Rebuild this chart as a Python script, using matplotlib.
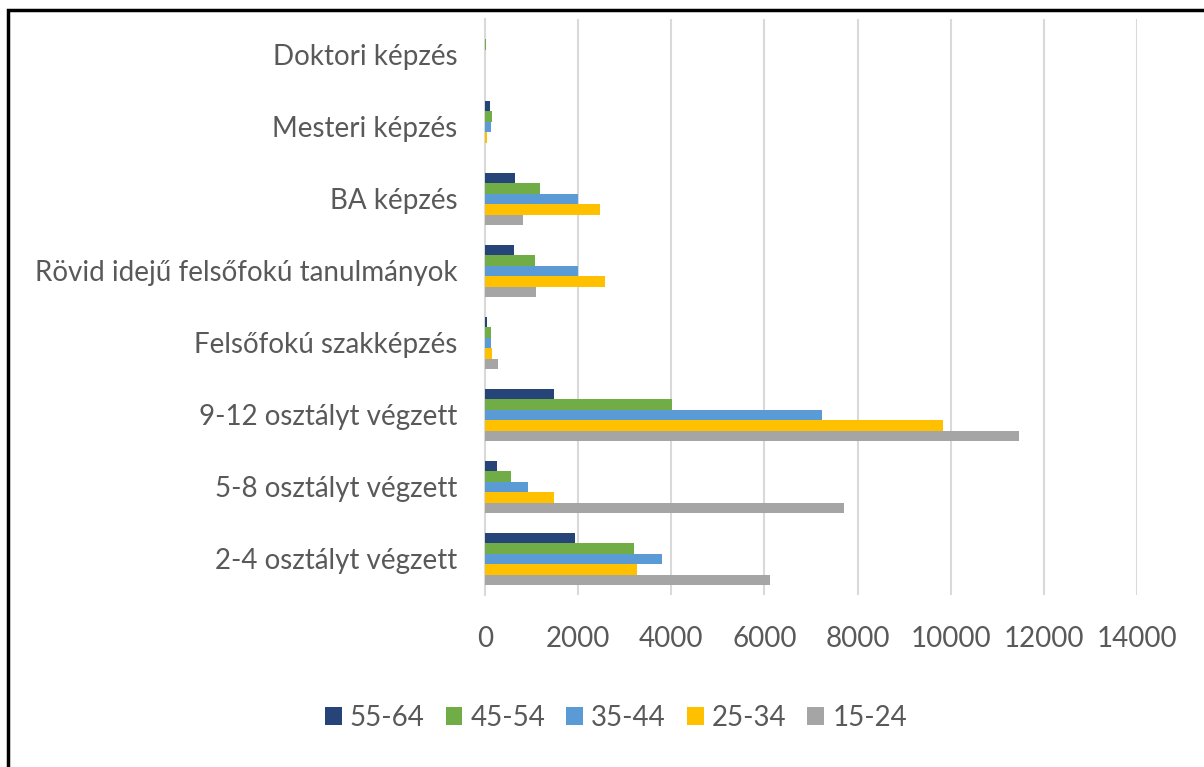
import matplotlib
matplotlib.use("Agg")
import matplotlib.pyplot as plt
from matplotlib.patches import Rectangle
import numpy as np

categories = ["2-4 osztályt végzett", "5-8 osztályt végzett", "9-12 osztályt végzett",
              "Felsőfokú szakképzés", "Rövid idejű felsőfokú tanulmányok",
              "BA képzés", "Mesteri képzés", "Doktori képzés"]
series_names = ["55-64", "45-54", "35-44", "25-34", "15-24"]
v_55_64 = [1930, 250, 1480, 35, 630, 650, 100, 5]
v_45_54 = [3210, 560, 4010, 120, 1080, 1190, 140, 20]
v_35_44 = [3790, 920, 7230, 135, 1990, 1990, 130, 5]
v_25_34 = [3270, 1480, 9830, 160, 2580, 2480, 50, 3]
v_15_24 = [6110, 7700, 11470, 280, 1100, 815, 5, 3]
colors = ["#264478", "#70AD47", "#5B9BD5", "#FFC000", "#A5A5A5"]
xticks = [0, 2000, 4000, 6000, 8000, 10000, 12000, 14000]

plt.rcParams['font.family'] = ['Lato', 'DejaVu Sans']
txt = "#595959"
fs = 20

fig = plt.figure(figsize=(12.04, 7.67), dpi=100)
ax = fig.add_axes([485/1204, 1-595/767, (1137-485)/1204, (595-19)/767])

y = np.arange(len(categories))
h = 0.147
all_vals = [v_55_64, v_45_54, v_35_44, v_25_34, v_15_24]
for k, (name, vals, c) in enumerate(zip(series_names, all_vals, colors)):
    off = (2 - k) * h
    ax.barh(y + off, vals, height=h, color=c, label=name, zorder=3)

ax.set_xlim(0, 14000)
ax.set_ylim(-0.5, len(categories) - 0.5)
ax.set_yticks(y)
ax.set_yticklabels(categories, fontsize=fs, color=txt)
ax.set_xticks(xticks)
ax.set_xticklabels([str(t) for t in xticks], fontsize=fs, color=txt)
ax.tick_params(axis='y', length=0, pad=20)
ax.tick_params(axis='x', length=0, pad=22)
ax.grid(axis='x', color="#D9D9D9", linewidth=1.5, zorder=0)
for s in ['top', 'right', 'bottom']:
    ax.spines[s].set_visible(False)
ax.spines['left'].set_color("#D9D9D9")
ax.spines['left'].set_linewidth(1.5)

handles, labels = ax.get_legend_handles_labels()
leg = fig.legend(handles, labels, loc='center', ncol=5, bbox_to_anchor=(616/1204, 1-718/767),
                 frameon=False, fontsize=fs, handlelength=0.6, handleheight=0.6,
                 handletextpad=0.3, columnspacing=0.75)
for t in leg.get_texts():
    t.set_color(txt)

fig.patches.append(Rectangle((8/1204, -0.05), 1.2, 1-10/767+0.05, transform=fig.transFigure,
                             fill=False, edgecolor="black", linewidth=2.5))

fig.savefig("out.png", dpi=100)
